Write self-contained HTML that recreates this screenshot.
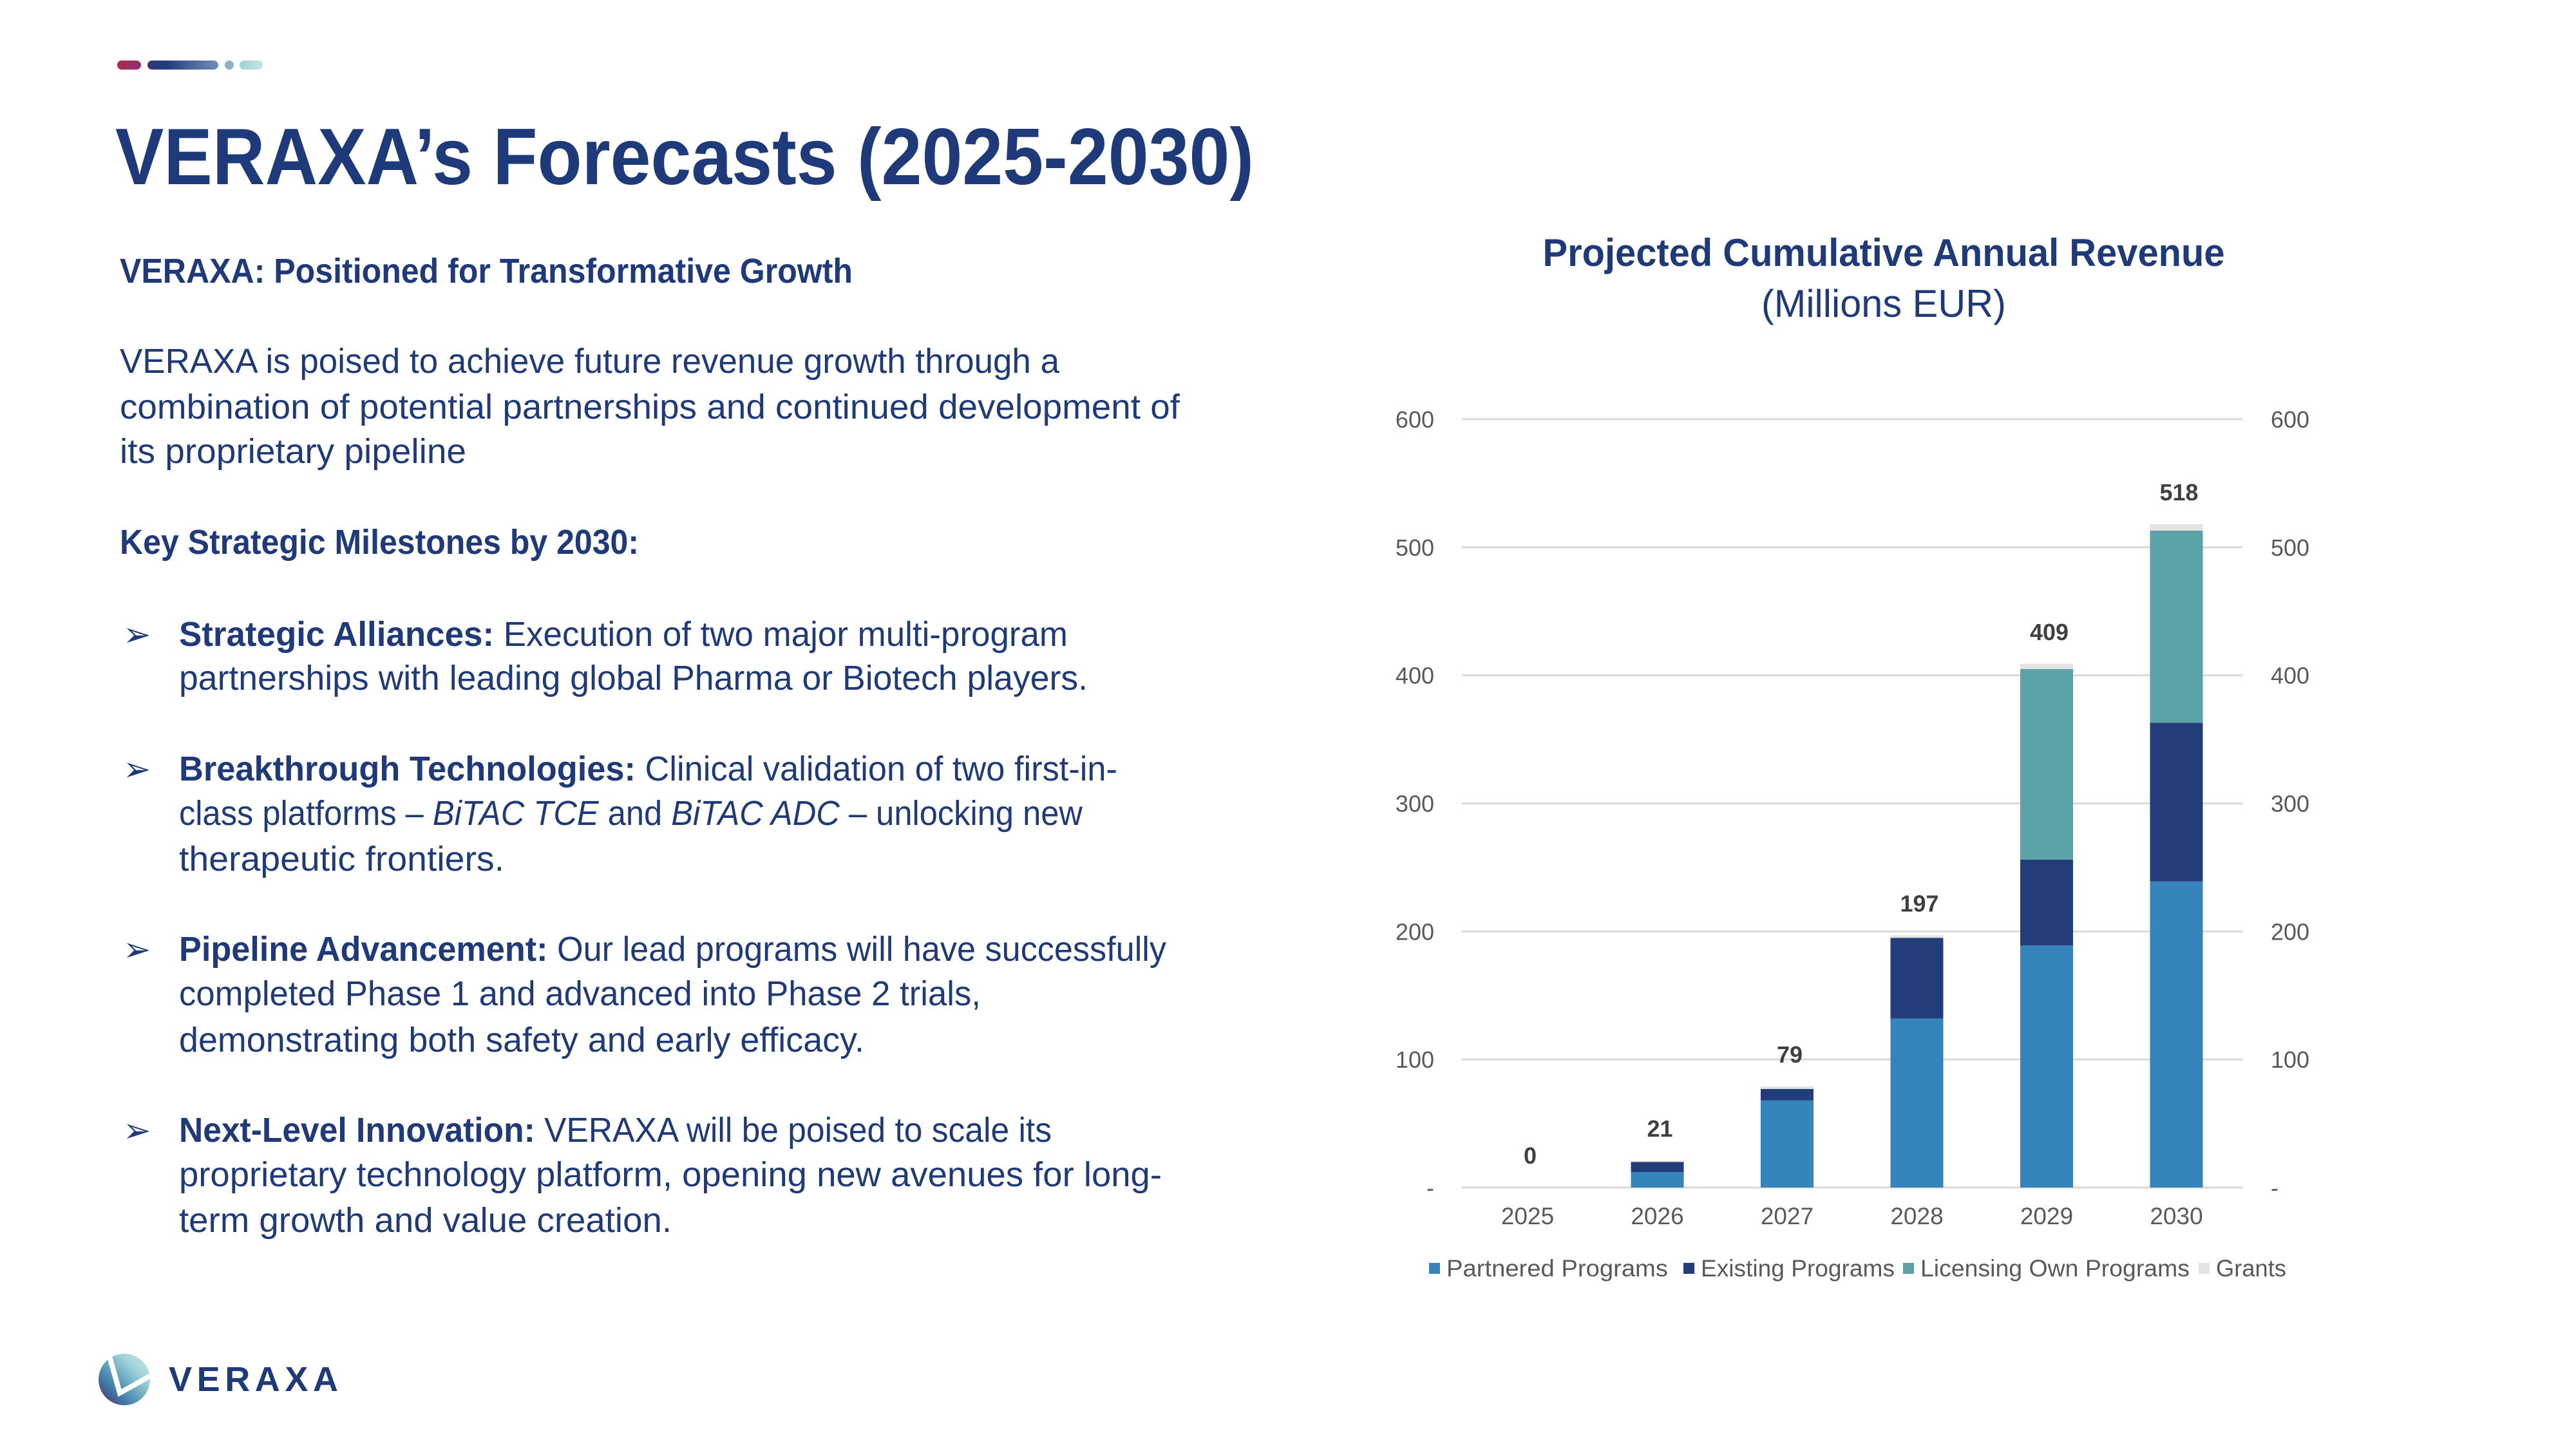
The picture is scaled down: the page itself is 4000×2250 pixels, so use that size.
<!DOCTYPE html>
<html><head><meta charset="utf-8"><style>
html,body{margin:0;padding:0;background:#fff;}
svg{display:block;}
text{font-family:"Liberation Sans",sans-serif;}
.body{font-size:54px;fill:#1F3A7A;}
.b{font-weight:bold;}
</style></head><body>
<svg id="slide" width="4000" height="2250" viewBox="0 0 4000 2250" xmlns="http://www.w3.org/2000/svg">
<defs>
<linearGradient id="gRed" x1="0" x2="1"><stop offset="0" stop-color="#B0284F"/><stop offset="1" stop-color="#8A3370"/></linearGradient>
<linearGradient id="gBlue" x1="0" x2="1"><stop offset="0" stop-color="#3A3678"/><stop offset="0.25" stop-color="#1E3C7E"/><stop offset="1" stop-color="#6E8FB5"/></linearGradient>
<linearGradient id="gTeal" x1="0" x2="1"><stop offset="0" stop-color="#9FD3D6"/><stop offset="1" stop-color="#BFE6E4"/></linearGradient>
<linearGradient id="gLogo" x1="0" y1="1" x2="1" y2="0"><stop offset="0" stop-color="#5A1E5E"/><stop offset="0.3" stop-color="#3D7FA8"/><stop offset="0.7" stop-color="#9FD3D8"/><stop offset="1" stop-color="#C8EAE8"/></linearGradient>
</defs>
<g>
<rect x="182" y="94" width="37" height="14" rx="7" fill="url(#gRed)"/>
<rect x="229" y="94" width="110" height="14" rx="7" fill="url(#gBlue)"/>
<circle cx="356" cy="101" r="7" fill="#8DB2C6"/>
<rect x="372" y="94" width="36" height="14" rx="7" fill="url(#gTeal)"/>
</g>
<text x="179" y="286" font-size="124" font-weight="bold" fill="#1F3A7A" textLength="1768" lengthAdjust="spacingAndGlyphs">VERAXA’s Forecasts (2025-2030)</text>
<text class="body b" x="186" y="439" font-size="52" textLength="1138" lengthAdjust="spacingAndGlyphs">VERAXA: Positioned for Transformative Growth</text>
<g class="body">
<text x="186" y="579" textLength="1459" lengthAdjust="spacingAndGlyphs">VERAXA is poised to achieve future revenue growth through a</text>
<text x="186" y="650" textLength="1646" lengthAdjust="spacingAndGlyphs">combination of potential partnerships and continued development of</text>
<text x="186" y="719" textLength="538" lengthAdjust="spacingAndGlyphs">its proprietary pipeline</text>
</g>
<text class="body b" x="186" y="860" textLength="806" lengthAdjust="spacingAndGlyphs">Key Strategic Milestones by 2030:</text>
<g class="body">
<g>
<text x="191" y="1003" font-size="52">➢</text>
<text x="278" y="1003" textLength="1380" lengthAdjust="spacingAndGlyphs"><tspan class="b">Strategic Alliances:</tspan> Execution of two major multi-program</text>
<text x="278" y="1071" textLength="1411" lengthAdjust="spacingAndGlyphs">partnerships with leading global Pharma or Biotech players.</text>
</g>
<g>
<text x="191" y="1212" font-size="52">➢</text>
<text x="278" y="1212" textLength="1457" lengthAdjust="spacingAndGlyphs"><tspan class="b">Breakthrough Technologies:</tspan> Clinical validation of two first-in-</text>
<text x="278" y="1281" textLength="1403" lengthAdjust="spacingAndGlyphs">class platforms – <tspan font-style="italic">BiTAC TCE</tspan> and <tspan font-style="italic">BiTAC ADC</tspan> – unlocking new</text>
<text x="278" y="1352" textLength="505" lengthAdjust="spacingAndGlyphs">therapeutic frontiers.</text>
</g>
<g>
<text x="191" y="1492" font-size="52">➢</text>
<text x="278" y="1492" textLength="1533" lengthAdjust="spacingAndGlyphs"><tspan class="b">Pipeline Advancement:</tspan> Our lead programs will have successfully</text>
<text x="278" y="1561" textLength="1245" lengthAdjust="spacingAndGlyphs">completed Phase 1 and advanced into Phase 2 trials,</text>
<text x="278" y="1633" textLength="1064" lengthAdjust="spacingAndGlyphs">demonstrating both safety and early efficacy.</text>
</g>
<g>
<text x="191" y="1773" font-size="52">➢</text>
<text x="278" y="1773" textLength="1355" lengthAdjust="spacingAndGlyphs"><tspan class="b">Next-Level Innovation:</tspan> VERAXA will be poised to scale its</text>
<text x="278" y="1842" textLength="1526" lengthAdjust="spacingAndGlyphs">proprietary technology platform, opening new avenues for long-</text>
<text x="278" y="1913" textLength="765" lengthAdjust="spacingAndGlyphs">term growth and value creation.</text>
</g>
</g>
<g>
<circle cx="193" cy="2142" r="40" fill="url(#gLogo)"/>
<path d="M170 2106 L186 2163 L236 2135" stroke="#fff" stroke-width="8" fill="none"/>
<text x="262" y="2160" font-size="54" font-weight="bold" fill="#1F3A7A" textLength="263" lengthAdjust="spacing">VERAXA</text>
</g>
<g>
<text x="2925" y="413" text-anchor="middle" font-size="60" font-weight="bold" fill="#1F3A7A" textLength="1059" lengthAdjust="spacingAndGlyphs">Projected Cumulative Annual Revenue</text>
<text x="2925" y="492" text-anchor="middle" font-size="60" fill="#1F3A7A" textLength="380" lengthAdjust="spacingAndGlyphs">(Millions EUR)</text>
</g>
<g id="chart"></g>
</svg>
<script>
const categories = ["2025","2026","2027","2028","2029","2030"];
const partnered = [0, 12, 68, 132, 189, 239];
const existing = [0, 8, 9, 63, 67, 124];
const licensing = [0, 0, 0, 0, 149, 150];
const grants = [0, 1, 2, 2, 4, 5];
const totals = [0, 21, 79, 197, 409, 518];
const yTicks = [0, 100, 200, 300, 400, 500, 600];
const yTickLabels = ["-", "100", "200", "300", "400", "500", "600"];
const seriesNames = ["Partnered Programs", "Existing Programs", "Licensing Own Programs", "Grants"];

const NS = "http://www.w3.org/2000/svg";
const g = document.getElementById("chart");
const X0 = 2270, X1 = 3482, Y0 = 1844, Y600 = 651;
const yS = v => Y0 - (v / 600) * (Y0 - Y600);
const step = 201.5;
const xC = i => 2372 + step * i;
const BW = 82;
const colors = ["#3584BC", "#233D7A", "#5BA3A7", "#E3E3E3"];
function mk(tag, attrs, txt) {
  const e = document.createElementNS(NS, tag);
  for (const k in attrs) e.setAttribute(k, attrs[k]);
  if (txt !== undefined) e.textContent = txt;
  g.appendChild(e);
  return e;
}
yTicks.forEach((t, i) => {
  const y = yS(t);
  const ln = mk("line", {x1: X0, x2: X1, y1: y, y2: y, stroke: "#D9D9D9", "stroke-width": 3});
  
  
  const l = mk("text", {x: 2227, y: y + 13, "text-anchor": "end", "font-size": 36, fill: "#595959"}, yTickLabels[i]);
  
  
  const r = mk("text", {x: 3526, y: y + 13, "font-size": 36, fill: "#595959"}, yTickLabels[i]);
  
  
});
const series = [partnered, existing, licensing, grants];
categories.forEach((c, i) => {
  let base = 0;
  series.forEach((s, k) => {
    const v = s[i];
    if (v > 0) {
      const r = mk("rect", {x: xC(i) - BW / 2, y: yS(base + v), width: BW, height: yS(base) - yS(base + v), fill: colors[k]});
      
      
    }
    base += v;
  });
  const tl = mk("text", {x: xC(i) + 4, y: yS(totals[i]) - 37, "text-anchor": "middle", "font-size": 36, "font-weight": "bold", fill: "#404040"}, String(totals[i]));
  
  
  const cl = mk("text", {x: xC(i), y: 1901, "text-anchor": "middle", "font-size": 37, fill: "#595959"}, c);
  
  
});
const legX = [2219, 2614, 2955, 3414];
const legEnd = [2590, 2942, 3400, 3550];
seriesNames.forEach((n, k) => {
  const sq = mk("rect", {x: legX[k], y: 1961, width: 17, height: 17, fill: colors[k]});
  
  
  const t = mk("text", {x: legX[k] + 27, y: 1982, "font-size": 37, fill: "#595959", textLength: legEnd[k] - legX[k] - 27, lengthAdjust: "spacingAndGlyphs"}, n);
  
  
});
</script>
</body></html>
